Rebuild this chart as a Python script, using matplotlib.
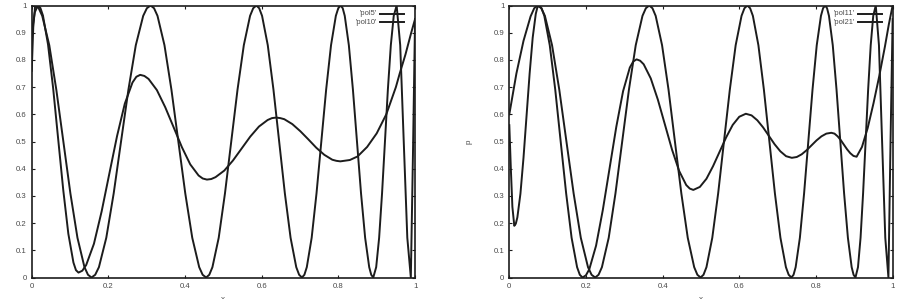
import matplotlib
matplotlib.use("Agg")
import matplotlib.pyplot as plt
from matplotlib.lines import Line2D

plt.rcParams["font.family"] = ["Liberation Sans", "DejaVu Sans"]

# curve points as (x, p) pairs; they are sorted by x before plotting
# left panel: 'pol5' is the smooth curve, 'pol10' the fast oscillating one
pol5_pts = [
    (0.0, 0.90), (0.008, 0.975), (0.016, 1.0), (0.0226, 0.991),
    (0.0293, 0.963), (0.0425, 0.857), (0.0558, 0.697), (0.069, 0.509), (0.0823, 0.321),
    (0.0955, 0.161), (0.1088, 0.055), (0.1154, 0.027), (0.122, 0.018), (0.132, 0.025),
    (0.1421, 0.046), (0.1623, 0.124), (0.1824, 0.243), (0.2025, 0.382), (0.2226, 0.520),
    (0.2428, 0.639), (0.2629, 0.717), (0.273, 0.738), (0.283, 0.745), (0.2939, 0.741),
    (0.3048, 0.730), (0.3265, 0.689), (0.3483, 0.626), (0.37, 0.553), (0.3918, 0.479),
    (0.4135, 0.416), (0.4353, 0.375), (0.4461, 0.364), (0.457, 0.360), (0.4683, 0.362),
    (0.4796, 0.369), (0.5023, 0.393), (0.5249, 0.430), (0.5475, 0.474), (0.5701, 0.518),
    (0.5928, 0.555), (0.6154, 0.579), (0.6267, 0.586), (0.638, 0.588), (0.6484, 0.586),
    (0.6589, 0.582), (0.6798, 0.564), (0.7006, 0.538), (0.7215, 0.508), (0.7424, 0.477),
    (0.7633, 0.451), (0.7841, 0.433), (0.7946, 0.429), (0.805, 0.427),
    (0.83, 0.432), (0.85, 0.445), (0.875, 0.48), (0.9, 0.53), (0.925, 0.60),
    (0.95, 0.70), (0.96, 0.75), (0.975, 0.82), (0.99, 0.90), (1.0, 0.95),
]

pol10_pts = [
    (0.0, 0.76), (0.004, 0.92), (0.009, 1.0), (0.0182, 0.990),
    (0.0274, 0.962), (0.0458, 0.854), (0.0641, 0.691), (0.0825, 0.5), (0.1009, 0.309),
    (0.1193, 0.146), (0.1376, 0.038), (0.1468, 0.010), (0.156, 0.0), (0.1656, 0.010),
    (0.1753, 0.038), (0.1945, 0.146), (0.2138, 0.309), (0.233, 0.5), (0.2523, 0.691),
    (0.2715, 0.854), (0.2908, 0.962), (0.3004, 0.990), (0.310, 1.0), (0.3191, 0.990),
    (0.3281, 0.962), (0.3463, 0.854), (0.3644, 0.691), (0.3825, 0.5), (0.4006, 0.309),
    (0.4188, 0.146), (0.4369, 0.038), (0.4459, 0.010), (0.455, 0.0), (0.4632, 0.010),
    (0.4714, 0.038), (0.4878, 0.146), (0.5041, 0.309), (0.5205, 0.5), (0.5369, 0.691),
    (0.5533, 0.854), (0.5696, 0.962), (0.5778, 0.990), (0.586, 1.0), (0.5934, 0.990),
    (0.6009, 0.962), (0.6158, 0.854), (0.6306, 0.691), (0.6455, 0.5), (0.6604, 0.309),
    (0.6753, 0.146), (0.6901, 0.038), (0.6976, 0.010), (0.705, 0.0), (0.7113, 0.010),
    (0.7176, 0.038), (0.7303, 0.146), (0.7429, 0.309), (0.7555, 0.5), (0.7681, 0.691),
    (0.7808, 0.854), (0.7934, 0.962), (0.7997, 0.990), (0.806, 1.0), (0.8113, 0.990),
    (0.8166, 0.962), (0.8273, 0.854), (0.8379, 0.691), (0.8485, 0.5), (0.8591, 0.309),
    (0.8698, 0.146), (0.8804, 0.038), (0.8857, 0.010), (0.891, 0.0),
    (0.8986, 0.038), (0.9063, 0.146), (0.9139, 0.309), (0.9215, 0.5), (0.9291, 0.691),
    (0.9368, 0.854), (0.9444, 0.962), (0.952, 1.0),
    (0.9613, 0.854), (0.9705, 0.5), (0.9798, 0.146), (0.989, 0.0),
    (0.9945, 0.45), (1.0, 0.95),
]

# right panel: 'pol11' is the smooth curve, 'pol21' the fast oscillating one
pol11_pts = [
    (0.0, 0.56), (0.004, 0.40), (0.008, 0.26), (0.013, 0.19), (0.017, 0.198),
    (0.021, 0.221), (0.029, 0.308), (0.037, 0.440), (0.045, 0.595), (0.053, 0.750),
    (0.061, 0.882), (0.069, 0.969), (0.073, 0.992), (0.077, 1.0), (0.0841, 0.990),
    (0.0913, 0.962), (0.1055, 0.854), (0.1198, 0.691), (0.134, 0.5), (0.1483, 0.309),
    (0.1625, 0.146), (0.1768, 0.038), (0.1839, 0.010), (0.191, 0.0), (0.1998, 0.008),
    (0.2086, 0.030), (0.2263, 0.117), (0.2439, 0.248), (0.2615, 0.401), (0.2791, 0.554),
    (0.2968, 0.685), (0.3144, 0.772), (0.3232, 0.794), (0.332, 0.802), (0.3413, 0.797),
    (0.3505, 0.784), (0.369, 0.732), (0.3875, 0.654), (0.406, 0.562), (0.4245, 0.470),
    (0.443, 0.392), (0.4615, 0.340), (0.4707, 0.327), (0.480, 0.322),
    (0.4971, 0.333), (0.5143, 0.363), (0.5314, 0.409), (0.5485, 0.462), (0.5656, 0.515),
    (0.5828, 0.561), (0.5999, 0.591), (0.617, 0.602),
    (0.632, 0.596), (0.647, 0.578), (0.662, 0.552), (0.677, 0.521), (0.692, 0.490),
    (0.707, 0.464), (0.722, 0.446), (0.737, 0.440),
    (0.7499, 0.443), (0.7628, 0.453), (0.7756, 0.468), (0.7885, 0.486), (0.8014, 0.504),
    (0.8143, 0.519), (0.8271, 0.529), (0.840, 0.532),
    (0.8483, 0.529), (0.8565, 0.519), (0.8648, 0.505), (0.873, 0.488), (0.8813, 0.471),
    (0.8895, 0.457), (0.8978, 0.447), (0.906, 0.444),
    (0.92, 0.48), (0.935, 0.55), (0.95, 0.64), (0.965, 0.74), (0.98, 0.85),
    (0.99, 0.93), (1.0, 1.0),
]

pol21_pts = [
    (0.0, 0.60), (0.0185, 0.75), (0.037, 0.87), (0.0555, 0.96), (0.065, 0.99),
    (0.074, 1.0), (0.0834, 0.990),
    (0.0928, 0.962), (0.1115, 0.854), (0.1303, 0.691), (0.149, 0.5), (0.1678, 0.309),
    (0.1865, 0.146), (0.2053, 0.038), (0.2146, 0.010), (0.224, 0.0), (0.2328, 0.010),
    (0.2416, 0.038), (0.2593, 0.146), (0.2769, 0.309), (0.2945, 0.5), (0.3121, 0.691),
    (0.3298, 0.854), (0.3474, 0.962), (0.3562, 0.990), (0.365, 1.0), (0.3734, 0.990),
    (0.3818, 0.962), (0.3985, 0.854), (0.4153, 0.691), (0.432, 0.5), (0.4488, 0.309),
    (0.4655, 0.146), (0.4823, 0.038), (0.4906, 0.010), (0.499, 0.0), (0.5066, 0.010),
    (0.5143, 0.038), (0.5295, 0.146), (0.5448, 0.309), (0.56, 0.5), (0.5753, 0.691),
    (0.5905, 0.854), (0.6058, 0.962), (0.6134, 0.990), (0.621, 1.0), (0.6282, 0.990),
    (0.6354, 0.962), (0.6498, 0.854), (0.6641, 0.691), (0.6785, 0.5), (0.6929, 0.309),
    (0.7073, 0.146), (0.7216, 0.038), (0.7288, 0.010), (0.736, 0.0), (0.7415, 0.010),
    (0.747, 0.038), (0.758, 0.146), (0.769, 0.309), (0.78, 0.5), (0.791, 0.691),
    (0.802, 0.854), (0.813, 0.962), (0.8185, 0.990), (0.824, 1.0), (0.8289, 0.990),
    (0.8339, 0.962), (0.8438, 0.854), (0.8536, 0.691), (0.8635, 0.5), (0.8734, 0.309),
    (0.8833, 0.146), (0.8931, 0.038), (0.8981, 0.010), (0.903, 0.0),
    (0.9096, 0.038), (0.9163, 0.146), (0.9229, 0.309), (0.9295, 0.5), (0.9361, 0.691),
    (0.9428, 0.854), (0.9494, 0.962), (0.956, 1.0),
    (0.9643, 0.854), (0.9725, 0.5), (0.9808, 0.146), (0.989, 0.0),
    (0.9945, 0.5), (1.0, 0.95),
]

x_ticks = [0, 0.2, 0.4, 0.6, 0.8, 1]
x_tick_labels = ["0", "0.2", "0.4", "0.6", "0.8", "1"]
y_ticks = [0, 0.1, 0.2, 0.3, 0.4, 0.5, 0.6, 0.7, 0.8, 0.9, 1]
y_tick_labels = ["0", "0.1", "0.2", "0.3", "0.4", "0.5", "0.6", "0.7", "0.8", "0.9", "1"]

panels = [
    ((pol5_pts, "'pol5'"), (pol10_pts, "'pol10'")),
    ((pol11_pts, "'pol11'"), (pol21_pts, "'pol21'")),
]

LINE = "#1c1c1c"
TEXT = "#4a4a4a"

fig = plt.figure(figsize=(9.09, 2.99), dpi=100)
lefts = [0.0349, 0.5603]
for left, curves in zip(lefts, panels):
    ax = fig.add_axes([left, 0.0719, 0.4217, 0.9097])
    for pts, _label in curves:
        xs, ys = zip(*sorted(pts))
        ax.plot(xs, ys, color=LINE, lw=1.4, solid_joinstyle="round")
    ax.set_xlim(0, 1)
    ax.set_ylim(0, 1)
    ax.set_xticks(x_ticks)
    ax.set_xticklabels(x_tick_labels)
    ax.set_yticks(y_ticks)
    ax.set_yticklabels(y_tick_labels)
    ax.tick_params(direction="in", length=2.3, width=0.8, color=LINE,
                   labelsize=5.6, labelcolor=TEXT, top=True, right=True, pad=3.6)
    for sp in ax.spines.values():
        sp.set_linewidth(1.2)
        sp.set_color(LINE)
    # axis titles sit at the picture edge, as in the source image
    ax.set_ylabel("p", fontsize=5.8, color=TEXT)
    ax.yaxis.set_label_coords(-0.095, 0.5)
    ax.set_xlabel("x", fontsize=5.8, color=TEXT)
    ax.xaxis.set_label_coords(0.5, -0.068)

    # gnuplot style key: right-justified titles with line samples to the right
    for row, (_pts, label) in enumerate(curves):
        yk = 0.969 - row * 0.031
        ax.text(0.901, yk, label, transform=ax.transAxes, ha="right", va="center",
                fontsize=5.4, color=TEXT)
        ax.add_line(Line2D([0.909, 0.972], [yk, yk], transform=ax.transAxes,
                           color=LINE, lw=1.4))

fig.savefig("out.png", dpi=100)
